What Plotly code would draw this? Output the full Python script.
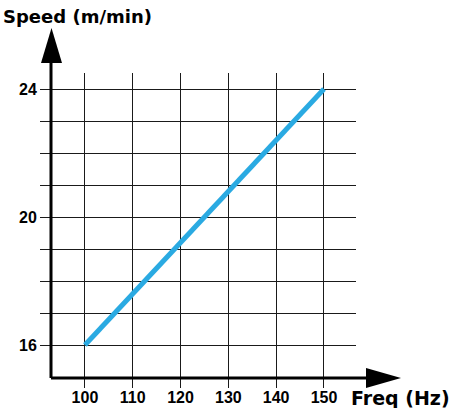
import plotly.graph_objects as go

# data
freq_hz = [100, 150]
speed_m_min = [16, 24]

x_ticks = [100, 110, 120, 130, 140, 150]
y_ticks = [16, 17, 18, 19, 20, 21, 22, 23, 24]
y_tick_labels = ["16", "", "", "", "20", "", "", "", "24"]

W, H = 459, 408
L, R, T, B = 51, 103, 73, 30  # margins in px
pw, ph = W - L - R, H - T - B


def px_x(p):
    return (p - L) / pw


def px_y(p):
    return (H - B - p) / ph


fig = go.Figure()
fig.add_trace(
    go.Scatter(
        x=freq_hz,
        y=speed_m_min,
        mode="lines",
        line=dict(color="#2aaae2", width=5),
        showlegend=False,
        hoverinfo="skip",
    )
)

grid = "#1a1a1a"
tick_font = dict(family="Liberation Sans, Arial, sans-serif", size=16, color="black", weight="bold")
title_font = dict(family="DejaVu Sans, sans-serif", size=18, color="black", weight="bold")

fig.update_layout(
    width=W,
    height=H,
    margin=dict(l=L, r=R, t=T, b=B, autoexpand=False),
    paper_bgcolor="white",
    plot_bgcolor="white",
    font=tick_font,
    xaxis=dict(
        range=[92.9, 156.7],
        tickvals=x_ticks,
        ticktext=[str(v) for v in x_ticks],
        showgrid=True,
        gridcolor=grid,
        gridwidth=1.3,
        ticks="outside",
        ticklen=9,
        tickwidth=1.3,
        tickcolor=grid,
        ticklabelstandoff=-4,
        zeroline=False,
        showline=False,
        fixedrange=True,
        automargin=False,
        tickfont=tick_font,
    ),
    yaxis=dict(
        range=[14.97, 24.5],
        tickvals=y_ticks,
        ticktext=y_tick_labels,
        showgrid=True,
        gridcolor=grid,
        gridwidth=1.3,
        ticks="outside",
        ticklen=10,
        tickwidth=1.3,
        tickcolor=grid,
        zeroline=False,
        showline=False,
        fixedrange=True,
        automargin=False,
        tickfont=tick_font,
    ),
)

# axis lines with arrow heads
fig.add_shape(type="line", xref="paper", yref="paper", x0=0, y0=0, x1=0, y1=px_y(63),
              line=dict(color="black", width=3))
fig.add_shape(type="line", xref="paper", yref="paper", x0=0, y0=0, x1=px_x(367), y1=0,
              line=dict(color="black", width=3))
fig.add_shape(
    type="path", xref="paper", yref="paper",
    path=f"M {px_x(41)},{px_y(63)} L {px_x(62)},{px_y(63)} L {px_x(51.5)},{px_y(28)} Z",
    fillcolor="black", line=dict(width=0),
)
fig.add_shape(
    type="path", xref="paper", yref="paper",
    path=f"M {px_x(366)},{px_y(368)} L {px_x(366)},{px_y(388)} L {px_x(401)},{px_y(378)} Z",
    fillcolor="black", line=dict(width=0),
)

fig.add_annotation(text="Speed (m/min)", xref="paper", yref="paper", x=px_x(1), y=px_y(16),
                   xanchor="left", yanchor="middle", showarrow=False, font=title_font)
fig.add_annotation(text="Freq (Hz)", xref="paper", yref="paper", x=px_x(349), y=px_y(398),
                   xanchor="left", yanchor="middle", showarrow=False, font=dict(title_font, size=19))

fig.write_html(
    "out.html",
    config={"displayModeBar": False},
    post_script="document.body.style.margin='0';",
)
